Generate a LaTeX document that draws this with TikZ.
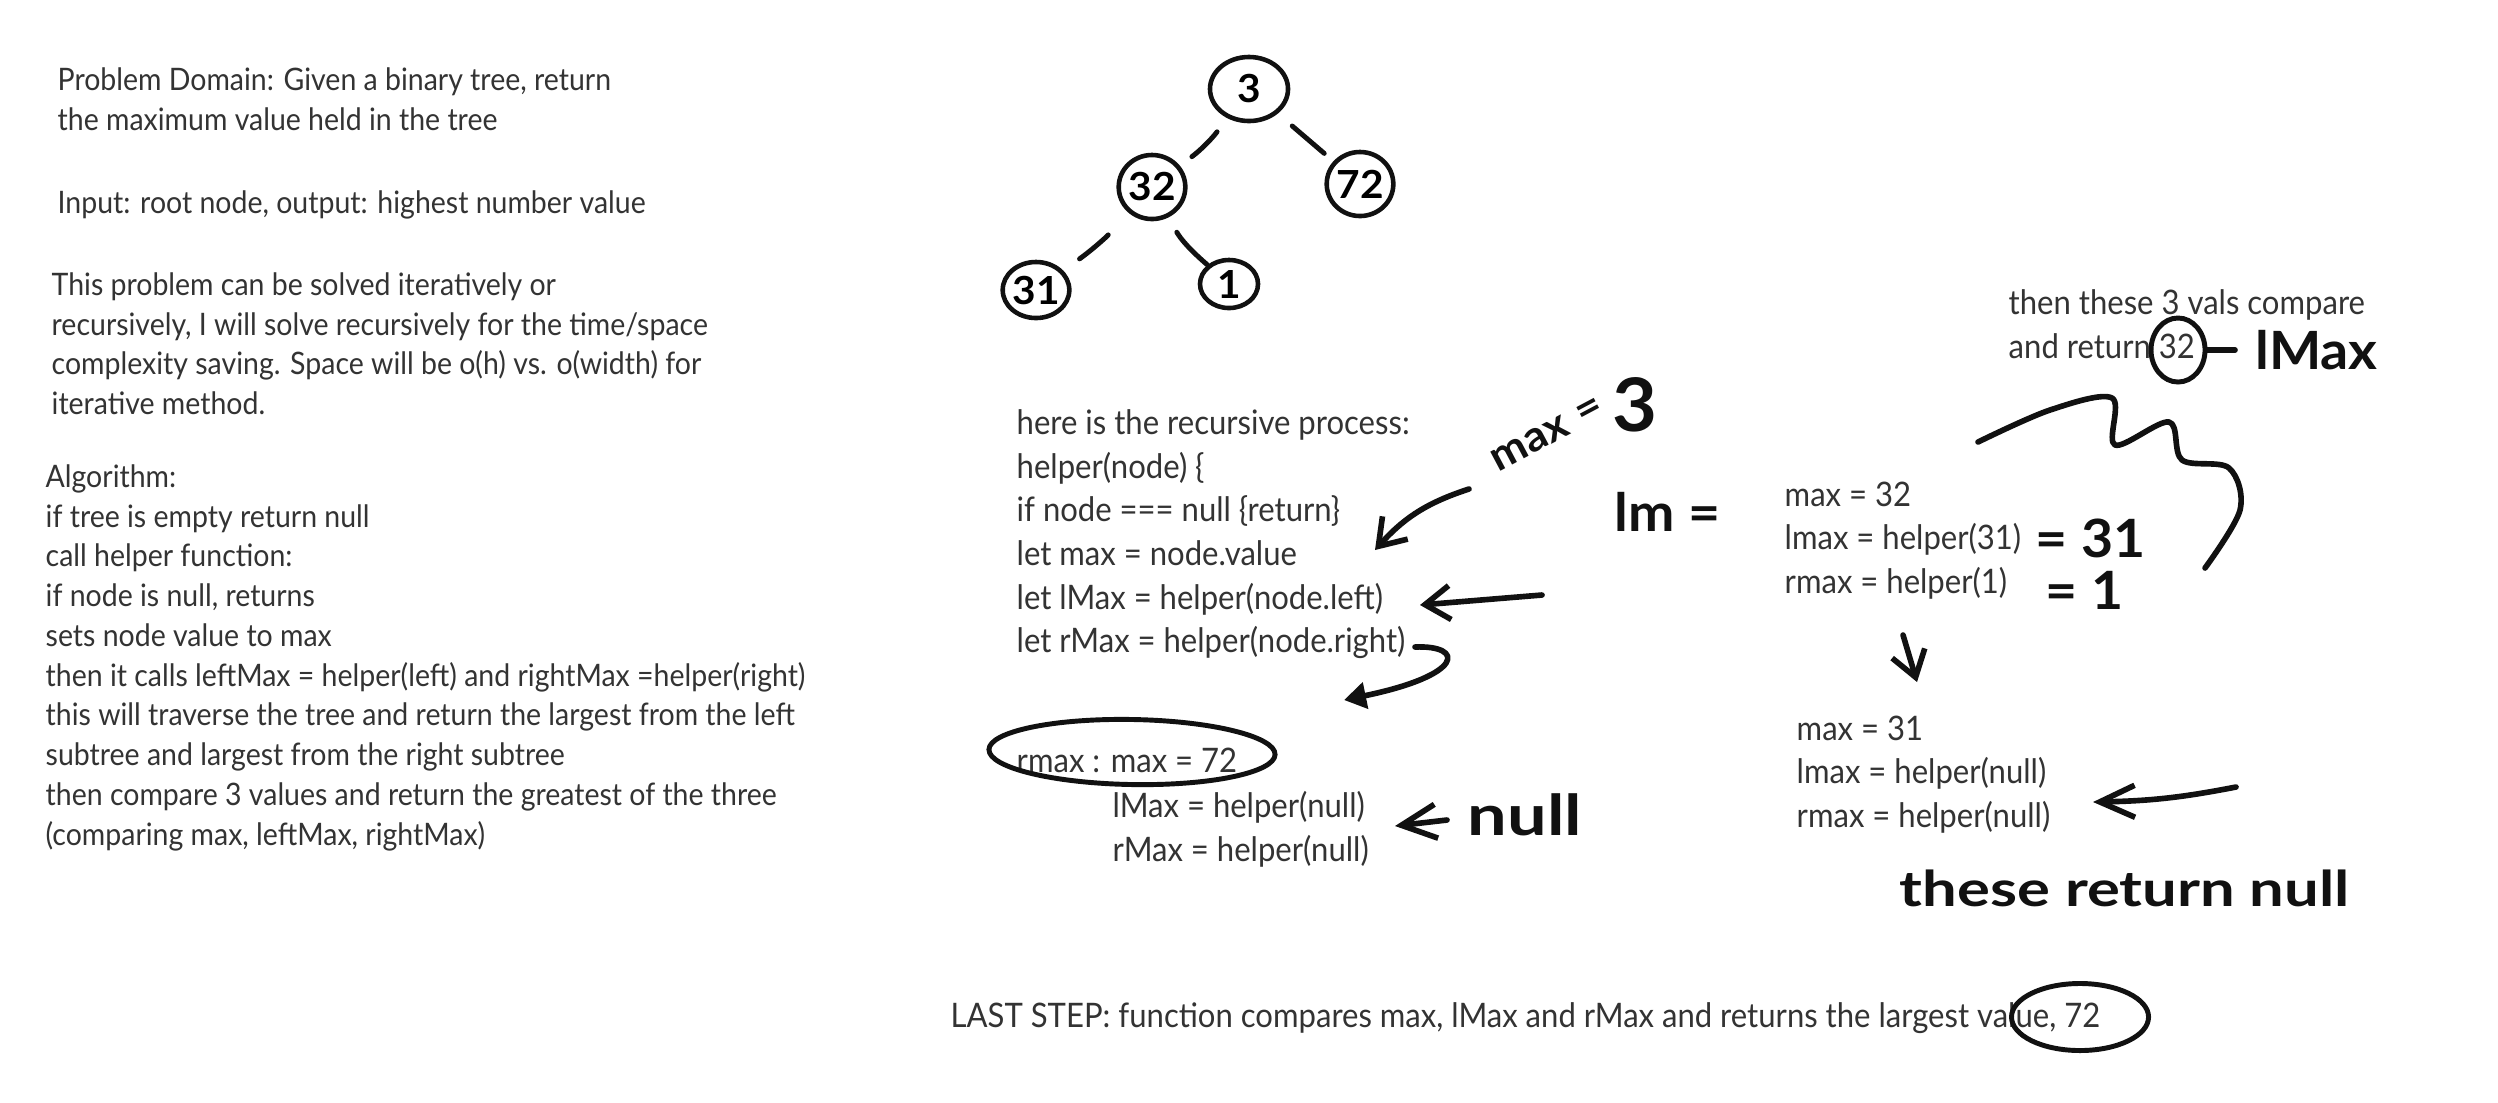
\documentclass[tikz,border=0pt]{standalone}
\usepackage{fontspec}
\setmainfont{Lato}[FakeStretch=0.92]
\newfontfamily\handfont{Lato}[FakeStretch=1.05]
\newfontfamily\handwide{Lato}[FakeStretch=1.25]
\usetikzlibrary{arrows.meta, positioning, shapes.geometric}
\definecolor{inkgray}{HTML}{333333}
\definecolor{inkblack}{HTML}{111111}

\begin{document}
\begin{tikzpicture}[
  x=0.01cm, y=-0.01cm,
  note/.style={inner sep=0pt, align=left, text=inkgray, font=\fontsize{8.8}{11.3}\selectfont},
  code/.style={note, font=\fontsize{9.6}{12.4}\selectfont},
  scrawl/.style={inner sep=0pt, text=inkblack, font=\handfont\bfseries\fontsize{15}{15}\selectfont},
  treenode/.style={ellipse, draw=inkblack, line width=1.3pt, inner sep=0pt, minimum width=0.64cm, minimum height=0.64cm, font=\handfont\bfseries\fontsize{11}{11}\selectfont},
  treeedge/.style={draw=inkblack, line width=1.4pt, line cap=round},
  inkline/.style={draw=inkblack, line width=1.6pt, line cap=round, line join=round},
  inkarrow/.style={inkline, -{Straight Barb[length=0.25cm, width=0.34cm]}},
  ring/.style={ellipse, draw=inkblack, line width=1.4pt, inner sep=0pt},
]
  \fill[white] (0,0) rectangle (2498,1102);

  % problem statement
  \node[note, anchor=north west] (domain) at (57,67) {Problem Domain: Given a binary tree, return\\the maximum value held in the tree};
  \node[note, anchor=west] (io) at (57,205) {Input: root node, output: highest number value};
  \node[note, anchor=north west] (approach) at (51,272) {This problem can be solved iteratively or\\recursively, I will solve recursively for the time/space\\complexity saving. Space will be o(h) vs. o(width) for\\iterative method.};
  \node[note, anchor=north west] (algo) at (45,464) {Algorithm:\\if tree is empty return null\\call helper function:\\if node is null, returns\\sets node value to max\\then it calls leftMax = helper(left) and rightMax =helper(right)\\this will traverse the tree and return the largest from the left\\subtree and largest from the right subtree\\then compare 3 values and return the greatest of the three\\(comparing max, leftMax, rightMax)};

  % the tree
  \node[treenode, minimum width=0.78cm] (root) at (1249,89) {3};
  \node[treenode] (n32) at (1152,187) {32};
  \node[treenode] (n72) at (1360,184) {72};
  \node[treenode, minimum width=0.56cm, minimum height=0.56cm] (n31) at (1036,290) {31};
  \node[treenode, minimum width=0.58cm, minimum height=0.48cm] (n1) at (1229,284) {1};

  \draw[treeedge, shorten <=0.17cm, shorten >=0.15cm] (root) to[bend left=8] (n32);
  \draw[treeedge, shorten <=0.19cm, shorten >=0.12cm] (root) -- (n72);
  \draw[treeedge, shorten <=0.30cm, shorten >=0.20cm] (n32) to[bend left=6] (n31);
  \draw[treeedge, shorten <=0.17cm] (n32) to[bend right=10] (n1);

  % recursive process
  \node[code, anchor=north west] (recur) at (1016,409) {here is the recursive process:\\helper(node) \{\\if node === null \{return\}\\let max = node.value\\let lMax = helper(node.left)\\let rMax = helper(node.right)};
  \node[scrawl, rotate=28, font=\handfont\bfseries\fontsize{12}{12}\selectfont] (maxnote) at (1530,443) {max};
  \node[scrawl, rotate=28, font=\handfont\bfseries\fontsize{12}{12}\selectfont] (maxeq) at (1590,412) {=};
  \node[scrawl, font=\handfont\bfseries\fontsize{21}{21}\selectfont] (maxval) at (1635,405) {3};

  \coordinate (a1s) at (1469,489);
  \coordinate (a1e) at (1375,550);
  \draw[inkarrow] (a1s) to[bend right=15] (a1e);
  \coordinate (a2s) at (1542,595);
  \coordinate (a2e) at (1420,605);
  \draw[inkarrow] (a2s) -- (a2e);
  \coordinate (a3s) at (1415,647);
  \coordinate (a3e) at (1344,700);
  \draw[inkline, -{Triangle[length=0.22cm, width=0.26cm]}] (a3s) .. controls (1465,645) and (1465,675) .. (a3e);

  \node[code, anchor=west] (rmaxcall) at (1016,760) {rmax : max = 72};
  \node[ring, minimum width=2.86cm, minimum height=0.65cm, rotate=-1] (rmaxring) at (1132,752) {};
  \node[code, anchor=north west] (nullcalls) at (1112,791) {lMax = helper(null)\\rMax = helper(null)};
  \node[scrawl, anchor=west, font=\handwide\bfseries\fontsize{16}{16}\selectfont] (nullnote) at (1467,815) {null};
  \coordinate (a4s) at (1447,820);
  \coordinate (a4e) at (1395,826);
  \draw[inkline, -{Straight Barb[length=0.35cm, width=0.34cm]}] (a4s) -- (a4e);

  % left subtree call
  \node[code, anchor=north west] (compare) at (2008,289) {then these 3 vals compare\\and return 32};
  \node[ring, minimum width=0.54cm, minimum height=0.64cm] (ret32) at (2178,350) {};
  \node[scrawl, anchor=west] (lmaxnote) at (2255,350) {lMax};
  \draw[inkline, shorten >=0.2cm] (ret32.east) -- (lmaxnote.west);
  \draw[inkline] plot[smooth, tension=0.55] coordinates {(1978,442) (2050,410) (2112,398) (2115,445) (2169,422) (2182,460) (2229,468) (2240,510) (2205,568)};

  \node[scrawl, anchor=west] (lmnote) at (1614,512) {lm =};
  \node[code, anchor=north west] (call32) at (1784,481) {max = 32\\lmax = helper(31)\\rmax = helper(1)};
  \node[scrawl, anchor=west] (is31) at (2035,538) {= 31};
  \node[scrawl, anchor=west] (is1) at (2045,590) {= 1};

  \coordinate (a5s) at (1903,635);
  \coordinate (a5e) at (1917,682);
  \draw[inkarrow] (a5s) -- (a5e);

  \node[code, anchor=north west] (call31) at (1796,715) {max = 31\\lmax = helper(null)\\rmax = helper(null)};
  \coordinate (a6s) at (2236,787);
  \coordinate (a6e) at (2093,802);
  \draw[inkline, -{Straight Barb[length=0.35cm, width=0.32cm]}] (a6s) to[bend left=5] (a6e);
  \node[scrawl, anchor=west, font=\handwide\bfseries\fontsize{14}{14}\selectfont] (retnull) at (1899,888) {these return null};

  % last step
  \node[code, anchor=west] (laststep) at (950,1018) {LAST STEP: function compares max, lMax and rMax and returns the largest value, 72};
  \node[ring, minimum width=1.37cm, minimum height=0.67cm] (ring72) at (2080,1017) {};
\end{tikzpicture}
\end{document}
